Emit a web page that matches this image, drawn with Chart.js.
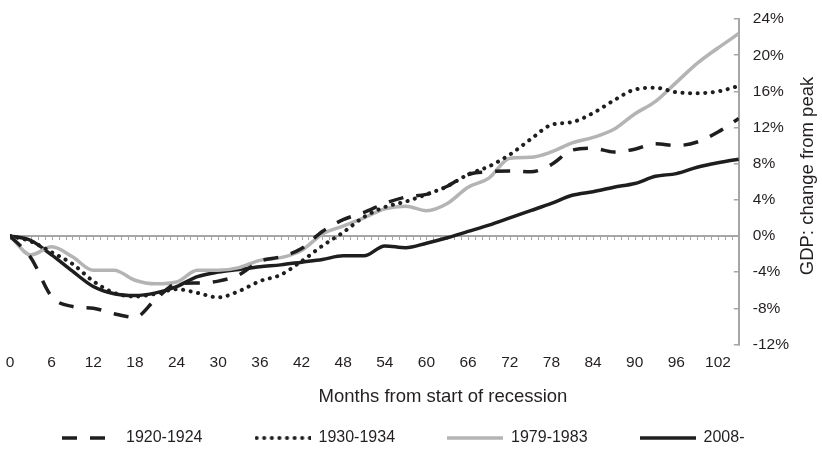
<!DOCTYPE html>
<html>
<head>
<meta charset="utf-8">
<title>GDP: change from peak</title>
<script src="https://cdn.jsdelivr.net/npm/chart.js@4.4.0/dist/chart.umd.min.js"></script>
<style>
    html, body { margin: 0; padding: 0; background: #fff; }
    #wrap { width: 822px; height: 449px; position: relative; }
</style>
</head>
<body>
<div id="wrap"><canvas id="gdpChart"></canvas></div>
<script>
// data: months from start of recession, GDP change from peak (%)
const MONTHS = [0, 3, 6, 9, 12, 15, 18, 21, 24, 27, 30, 33, 36, 39, 42, 45, 48, 51,
                54, 57, 60, 63, 66, 69, 72, 75, 78, 81, 84, 87, 90, 93, 96, 99, 102, 105];
const SERIES_LABELS = ['1920-1924', '1930-1934', '1979-1983', '2008-'];
const GDP_1920 = [0, -2.4, -6.7, -7.8, -8.0, -8.6, -9.0, -7.0, -5.3, -5.2, -5.0, -4.3,
                  -2.8, -2.3, -1.4, 0.5, 1.8, 2.6, 3.6, 4.3, 4.6, 5.5, 6.8, 7.1,
                  7.2, 7.1, 7.9, 9.5, 9.7, 9.3, 9.6, 10.2, 10.0, 10.4, 11.5, 13.0];
const GDP_1930 = [0, -0.6, -1.8, -3.1, -5.0, -6.3, -6.7, -6.4, -5.9, -6.3, -6.8, -6.1,
                  -5.0, -4.3, -2.8, -1.1, 0.4, 2.1, 3.2, 3.8, 4.6, 5.5, 6.8, 7.7,
                  9.0, 10.7, 12.3, 12.6, 13.6, 15.0, 16.2, 16.4, 15.9, 15.8, 16.0, 16.6];
const GDP_1979 = [0, -2.1, -1.2, -2.3, -3.8, -3.8, -4.9, -5.3, -5.1, -3.8, -3.8, -3.5,
                  -2.7, -2.4, -1.6, 0.2, 1.1, 2.0, 3.0, 3.3, 2.8, 3.6, 5.4, 6.4,
                  8.6, 8.7, 9.3, 10.3, 10.9, 11.8, 13.5, 14.9, 17.0, 19.1, 20.8, 22.4];
const GDP_2008 = [0, -0.5, -2.1, -3.9, -5.6, -6.4, -6.6, -6.3, -5.6, -4.5, -4.0, -3.7,
                  -3.4, -3.2, -2.9, -2.6, -2.2, -2.2, -1.1, -1.3, -0.8, -0.2, 0.5, 1.2,
                  2.0, 2.8, 3.6, 4.5, 4.9, 5.4, 5.8, 6.6, 6.9, 7.6, 8.1, 8.5];
const Y_TICKS = { min: -12, max: 24, step: 4 };
const X_TICKS = { min: 0, max: 105, step: 6 };
const X_TITLE = 'Months from start of recession';
const Y_TITLE = 'GDP: change from peak';

// style
const FONT = '"Liberation Sans", Arial, sans-serif';
const TEXT_COLOR = '#231f20';
const AXIS_GREY = '#a6a6a6';
const BLACK = '#1e1e1e';
const LIGHT = '#b4b4b4';
const SAMPLE_WIDTH = 56;

/**
 * zero line with a small tick every month
 */
const zeroLinePlugin = {
    id: 'zeroLine',
    beforeDatasetsDraw(chart) {
        const { ctx, chartArea, scales: { x, y } } = chart;
        const y0 = Math.round(y.getPixelForValue(0));
        ctx.save();
        ctx.strokeStyle = AXIS_GREY;
        ctx.lineWidth = 2;
        ctx.beginPath();
        ctx.moveTo(chartArea.left, y0);
        ctx.lineTo(chartArea.right, y0);
        ctx.stroke();
        ctx.lineWidth = 1;
        ctx.beginPath();
        for (let m = X_TICKS.min; m <= X_TICKS.max; m++) {
            const px = Math.round(x.getPixelForValue(m)) + 0.5;
            ctx.moveTo(px, y0);
            ctx.lineTo(px, y0 + 4);
        }
        ctx.stroke();
        ctx.restore();
    }
};

/**
 * axis titles (x title off-centre, y title reads bottom-up)
 */
const axisTitlePlugin = {
    id: 'axisTitles',
    afterDraw(chart) {
        const { ctx } = chart;
        ctx.save();
        ctx.fillStyle = TEXT_COLOR;
        ctx.font = `18.5px ${FONT}`;
        ctx.textAlign = 'center';
        ctx.textBaseline = 'middle';
        ctx.fillText(X_TITLE, 443, 397);
        ctx.translate(808, 176);
        ctx.rotate(-Math.PI / 2);
        ctx.fillText(Y_TITLE, 0, 0);
        ctx.restore();
    }
};

/**
 * small canvas used as the legend sample (keeps the dash pattern)
 */
function makeLegendSample(color, dash, cap, width) {
    const c = document.createElement('canvas');
    c.width = SAMPLE_WIDTH;
    c.height = 8;
    const g = c.getContext('2d');
    g.strokeStyle = color;
    g.lineWidth = width;
    g.lineCap = cap;
    g.setLineDash(dash);
    g.beginPath();
    g.moveTo(cap === 'round' ? 2 : 0, 4);
    g.lineTo(SAMPLE_WIDTH, 4);
    g.stroke();
    return c;
}

function makeSeries(label, values, color, dash, cap, width) {
    return {
        label: label,
        data: MONTHS.map((m, i) => ({ x: m, y: values[i] })),
        borderColor: color,
        backgroundColor: color,
        borderWidth: width,
        borderDash: dash,
        borderCapStyle: cap,
        pointRadius: 0,
        pointStyle: makeLegendSample(color, dash, cap, width),
        cubicInterpolationMode: 'monotone',
        fill: false
    };
}

document.addEventListener('DOMContentLoaded', () => {
    const ctx = document.getElementById('gdpChart').getContext('2d');
    new Chart(ctx, {
        type: 'line',
        data: {
            datasets: [
                makeSeries(SERIES_LABELS[0], GDP_1920, BLACK, [15, 13], 'butt', 3.5),
                makeSeries(SERIES_LABELS[1], GDP_1930, BLACK, [0.1, 7.5], 'round', 4),
                makeSeries(SERIES_LABELS[2], GDP_1979, LIGHT, [], 'butt', 3.5),
                makeSeries(SERIES_LABELS[3], GDP_2008, BLACK, [], 'butt', 3.5)
            ]
        },
        options: {
            responsive: true,
            maintainAspectRatio: false,
            animation: false,
            layout: { padding: { left: 10, right: 14, top: 18, bottom: 0 } },
            plugins: {
                legend: {
                    position: 'bottom',
                    align: 'start',
                    maxHeight: 77,
                    // empty title only adds a little space above the items
                    title: { display: true, text: ' ', padding: 0, font: { size: 5 } },
                    labels: {
                        usePointStyle: true,
                        pointStyleWidth: SAMPLE_WIDTH,
                        padding: 52,
                        color: TEXT_COLOR,
                        font: { family: FONT, size: 16 }
                    }
                },
                tooltip: { enabled: false }
            },
            scales: {
                x: {
                    type: 'linear',
                    min: X_TICKS.min,
                    max: X_TICKS.max,
                    // hidden grid; tickLength only spaces the labels off the plot
                    grid: { display: false, drawTicks: true, tickLength: 9 },
                    border: { display: false },
                    ticks: {
                        stepSize: X_TICKS.step,
                        includeBounds: false,
                        padding: 0,
                        maxRotation: 0,
                        color: TEXT_COLOR,
                        font: { family: FONT, size: 15.5 }
                    }
                },
                y: {
                    position: 'right',
                    min: Y_TICKS.min,
                    max: Y_TICKS.max,
                    grid: {
                        drawOnChartArea: false,
                        drawTicks: true,
                        tickLength: -5,
                        color: AXIS_GREY,
                        lineWidth: 1.5
                    },
                    border: { display: true, color: AXIS_GREY, width: 2 },
                    ticks: {
                        stepSize: Y_TICKS.step,
                        padding: 19,
                        color: TEXT_COLOR,
                        // tiny line height so the labels do not push the plot area in
                        font: { family: FONT, size: 15.5, lineHeight: 0.01 },
                        callback: v => v + '%'
                    }
                }
            }
        },
        plugins: [zeroLinePlugin, axisTitlePlugin]
    });
});
</script>
</body>
</html>
